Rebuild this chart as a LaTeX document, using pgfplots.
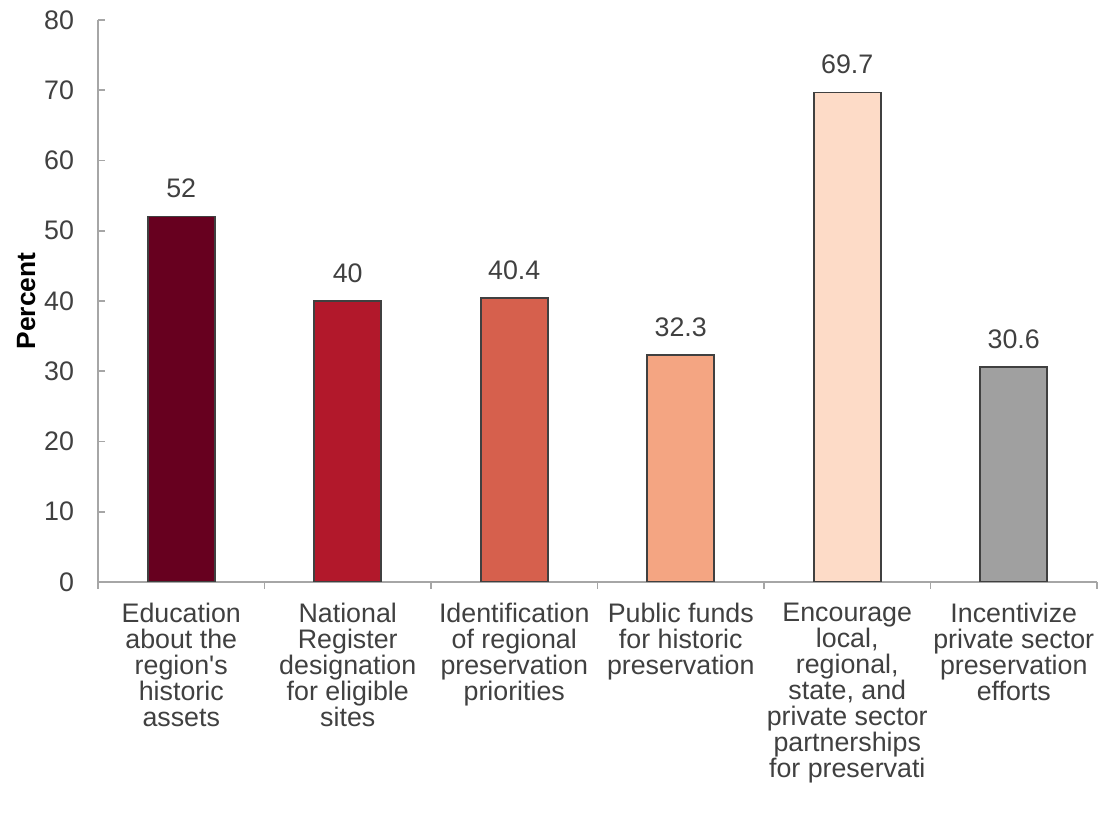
\documentclass[border=0pt]{standalone}
\usepackage{fontspec}
\setmainfont{Liberation Sans}
\usepackage{pgfplots}
\pgfplotsset{compat=1.18}
\usetikzlibrary{calc}
\definecolor{txt}{HTML}{404040}
\definecolor{axgrey}{HTML}{A6A6A6}
\definecolor{cA}{HTML}{67001F}
\definecolor{cB}{HTML}{B2182B}
\definecolor{cC}{HTML}{D6604D}
\definecolor{cD}{HTML}{F4A582}
\definecolor{cE}{HTML}{FDDBC7}
\definecolor{cF}{HTML}{A0A0A0}
\begin{document}
\begin{tikzpicture}
\begin{axis}[
  name=ax,
  scale only axis,
  width=499.5pt, height=281pt,
  xmin=-0.5, xmax=5.5, ymin=0, ymax=80,
  axis x line*=bottom, axis y line*=left,
  axis line style={draw=axgrey, line width=0.8pt},
  every tick/.style={draw=axgrey, line width=0.8pt},
  tick align=inside,
  ytick={0,10,...,80},
  major tick length=3.5pt,
  minor tick length=3.5pt,
  xtick={0,1,2,3,4,5},
  major x tick style={draw=none},
  minor xtick={-0.5,0.5,1.5,2.5,3.5,4.5,5.5},
  xticklabels={{Education\\about the\\region\textquotesingle s\\historic\\assets},
    {National\\Register\\designation\\for eligible\\sites},
    {Identification\\of regional\\preservation\\priorities},
    {Public funds\\for historic\\preservation},
    {Encourage\\local,\\regional,\\state, and\\private sector\\partnerships\\for preservati},
    {Incentivize\\private sector\\preservation\\efforts}},
  x tick label style={align=center, anchor=north, font=\fontsize{13.4}{13}\selectfont, text=txt, yshift=-3.5pt},
  y tick label style={font=\fontsize{13.4}{13}\selectfont, text=txt, xshift=-8.5pt},
  /pgf/number format/assume math mode=true,
  ylabel={\bfseries Percent},
  ylabel style={font=\fontsize{13.2}{13}\selectfont, text=black, yshift=-2.5pt},
  ybar, bar width=33.5pt,
  every axis plot/.append style={bar shift=0pt, draw=txt, line width=0.8pt},
  nodes near coords,
  nodes near coords style={font=\fontsize{13.4}{13}\selectfont, text=txt, yshift=5.5pt},
]
\addplot[fill=cA] coordinates {(0,52)};
\addplot[fill=cB] coordinates {(1,40)};
\addplot[fill=cC] coordinates {(2,40.4)};
\addplot[fill=cD] coordinates {(3,32.3)};
\addplot[fill=cE] coordinates {(4,69.7)};
\addplot[fill=cF] coordinates {(5,30.6)};
\end{axis}
\pgfresetboundingbox
\path[use as bounding box] ($(ax.south west)+(-49pt,-116pt)$) rectangle ($(ax.north east)+(1pt,10pt)$);
\end{tikzpicture}
\end{document}
